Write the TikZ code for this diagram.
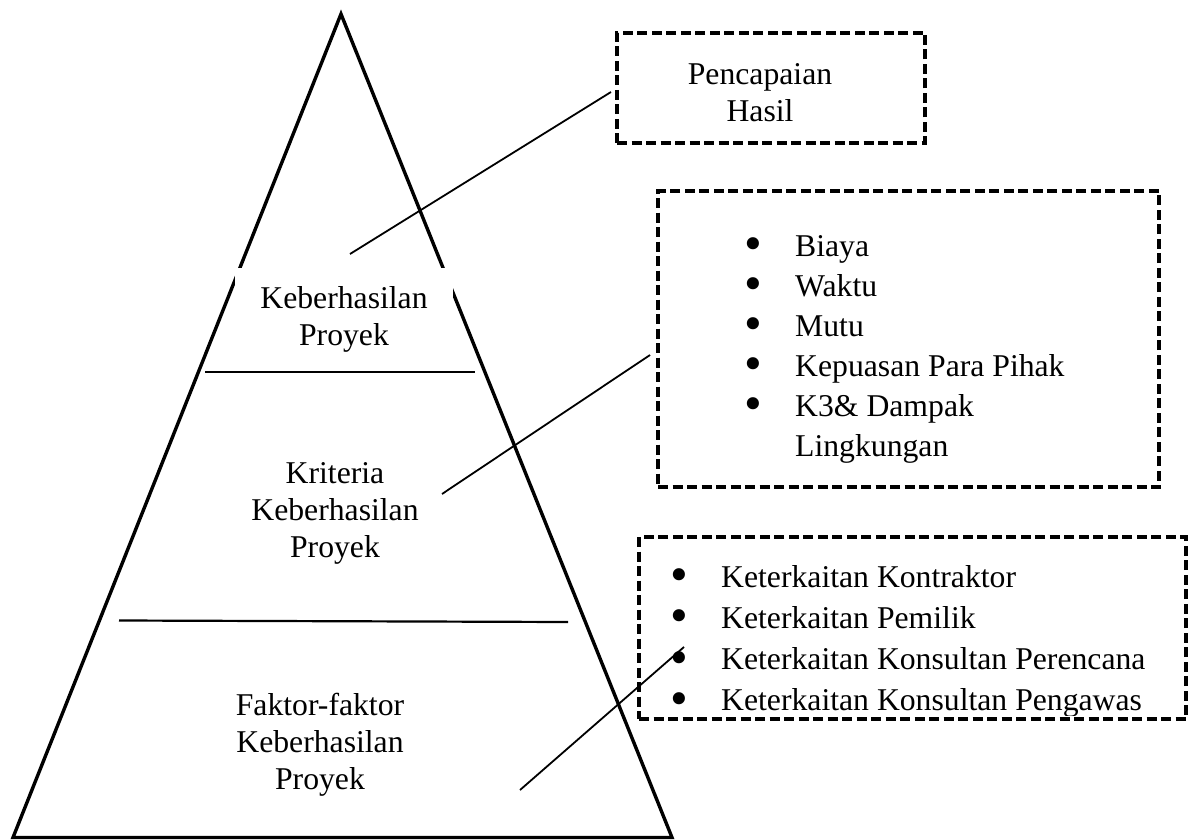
\documentclass[tikz,border=0pt]{standalone}
\usepackage{fontspec}
\setmainfont{Liberation Serif}
\newcommand{\bigbul}{\makebox[49pt][l]{\hspace*{-1.5pt}\smash{\raisebox{-4.5pt}{\scalebox{1.6}{\textbullet}}}}}
\begin{document}
\begin{tikzpicture}[x=1pt,y=-1pt,
  tri/.style={line width=3.4pt, line join=miter},
  divline/.style={line width=2.2pt},
  conn/.style={line width=1.8pt},
  dbox/.style={draw, dash pattern=on 10pt off 4.5pt, line width=3.4pt, inner sep=0pt},
  lbl/.style={inner sep=0pt, anchor=base, font=\fontsize{31.7}{37}\selectfont},
  lst/.style={inner sep=0pt, anchor=base west},
]
\useasboundingbox (0,0) rectangle (1189,840);
% pyramid
\coordinate (apex) at (341,14);
\coordinate (bl) at (13,837.5);
\coordinate (br) at (672,837.5);
\draw[tri] (apex) -- (bl) -- (br) -- cycle;
\node[fill=white, minimum width=218pt, minimum height=92pt, inner sep=0pt] (mask) at (344,314) {};
\node[lbl] (top) at (344,308) {\begin{tabular}[t]{@{}c@{}}Keberhasilan\\Proyek\end{tabular}};
\draw[divline] (205,372) -- (475,372);
\node[lbl] (mid) at (335,483) {\begin{tabular}[t]{@{}c@{}}Kriteria\\Keberhasilan\\Proyek\end{tabular}};
\draw[divline] (119,620.5) -- (568,622);
\node[lbl] (bot) at (320,715) {\begin{tabular}[t]{@{}c@{}}Faktor-faktor\\Keberhasilan\\Proyek\end{tabular}};
% box 1
\node[dbox, minimum width=308pt, minimum height=110pt] (b1) at (771,88) {};
\node[lbl] (t1) at (760,85) {\begin{tabular}[t]{@{}c@{}}Pencapaian\\Hasil\end{tabular}};
% box 2
\node[dbox, minimum width=501pt, minimum height=296pt] (b2) at (908.5,339) {};
\node[lst, font=\fontsize{31.7}{40}\selectfont] (l2) at (746,256) {\begin{tabular}[t]{@{}l@{}}
\bigbul Biaya\\
\bigbul Waktu\\
\bigbul Mutu\\
\bigbul Kepuasan Para Pihak\\
\bigbul K3\& Dampak\\
\makebox[49pt][l]{}Lingkungan\end{tabular}};
% box 3
\node[dbox, minimum width=547pt, minimum height=182pt] (b3) at (912.5,628) {};
\begin{scope}
\clip (639,537) rectangle (1186,715.5);
\node[lst, font=\fontsize{31.7}{41.3}\selectfont] (l3) at (672,587) {\begin{tabular}[t]{@{}l@{}}
\bigbul Keterkaitan Kontraktor\\
\bigbul Keterkaitan Pemilik\\
\bigbul Keterkaitan Konsultan Perencana\\
\bigbul Keterkaitan Konsultan Pengawas\end{tabular}};
\end{scope}
% connectors
\coordinate (c1s) at (350,254);
\coordinate (c1e) at (611,92);
\coordinate (c2s) at (442,494);
\coordinate (c2e) at (650,355);
\coordinate (c3s) at (520,790);
\coordinate (c3e) at (684,647);
\draw[conn] (c1s) -- (c1e);
\draw[conn] (c2s) -- (c2e);
\draw[conn] (c3s) -- (c3e);
\end{tikzpicture}
\end{document}
